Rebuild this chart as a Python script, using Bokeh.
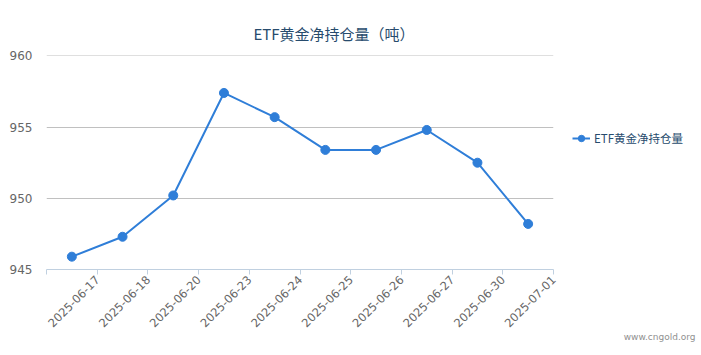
import math
from bokeh.plotting import figure
from bokeh.models import (ColumnDataSource, Range1d, FixedTicker, Legend, LegendItem,
                          Title)
from bokeh.embed import file_html
from bokeh.resources import INLINE

dates = ["2025-06-17", "2025-06-18", "2025-06-20", "2025-06-23", "2025-06-24",
         "2025-06-25", "2025-06-26", "2025-06-27", "2025-06-30", "2025-07-01"]
holdings = [945.9, 947.3, 950.2, 957.4, 955.7, 953.4, 953.4, 954.8, 952.5, 948.2]
y_ticks = [945, 950, 955, 960]
title_text = "ETF黄金净持仓量（吨）"
series_name = "ETF黄金净持仓量"
credit_text = "www.cngold.org"

FONT = "Noto Sans CJK SC"
NUM_FONT = "DejaVu Sans"
LINE_COLOR = "#2f7ed8"

n = len(dates)
xs = [i + 0.5 for i in range(n)]
src = ColumnDataSource(dict(x=xs, y=holdings, d=dates))

p = figure(frame_width=507, frame_height=214, output_backend="svg", toolbar_location=None,
           x_range=Range1d(0, n), y_range=Range1d(945, 960.03),
           min_border_left=46, min_border_right=148, min_border_top=55,
           min_border_bottom=86)
p.outline_line_color = None
p.background_fill_color = "white"
p.border_fill_color = "white"

line_r = p.line("x", "y", source=src, line_color=LINE_COLOR, line_width=2)
pts_r = p.scatter("x", "y", source=src, size=9, fill_color=LINE_COLOR,
                  line_color=LINE_COLOR)

xa = p.xaxis[0]
xa.ticker = FixedTicker(ticks=list(range(0, n + 1)))
overrides = {0: ""}
for i, d in enumerate(dates):
    overrides[i + 1] = d
xa.major_label_overrides = overrides
xa.major_label_orientation = math.pi / 4
xa.major_label_text_font = NUM_FONT
xa.major_label_text_font_size = "11.5px"
xa.major_label_text_color = "#666666"
xa.major_label_standoff = 3
xa.axis_line_color = "#c0d0e0"
xa.major_tick_line_color = "#c0d0e0"
xa.major_tick_in = 0
xa.major_tick_out = 5
xa.minor_tick_line_color = None

ya = p.yaxis[0]
ya.ticker = FixedTicker(ticks=y_ticks)
ya.axis_line_color = None
ya.major_tick_line_color = None
ya.minor_tick_line_color = None
ya.major_label_text_font = NUM_FONT
ya.major_label_text_font_size = "12px"
ya.major_label_text_color = "#666666"
ya.major_label_standoff = 8

p.xgrid.grid_line_color = None
p.ygrid.grid_line_color = "#c0c0c0"
p.ygrid.grid_line_width = 1

t = Title(text=title_text, align="left", text_font=FONT, text_font_size="15px",
          text_color="#274b6d", text_font_style="normal", offset=207, standoff=24)
p.add_layout(t, "above")

credit = Title(text=credit_text, align="right", offset=-142, text_font=NUM_FONT,
               text_font_size="9px", text_color="#909090", text_font_style="normal",
               standoff=-10)
p.add_layout(credit, "below")

legend = Legend(items=[LegendItem(label=series_name, renderers=[line_r, pts_r])],
                location=(19, 123), padding=0, margin=0, spacing=0,
                glyph_width=18, glyph_height=16, label_standoff=4,
                label_text_font=FONT, label_text_font_size="11.5px",
                label_text_color="#274b6d", border_line_color=None,
                background_fill_alpha=0)
p.add_layout(legend, "right")

open("out.html", "w").write(file_html(p, INLINE))
